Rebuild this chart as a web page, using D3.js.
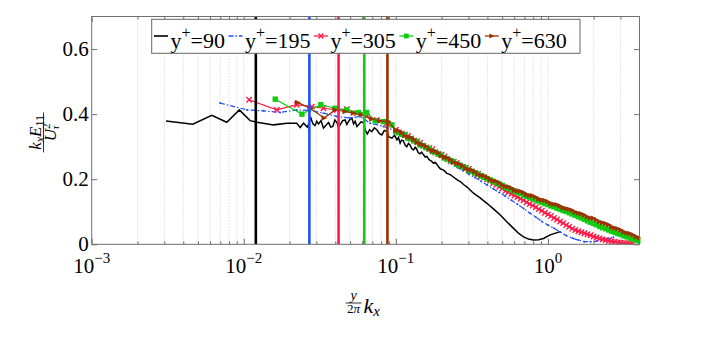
<!DOCTYPE html>
<html>
<head>
<meta charset="utf-8">
<script src="https://cdn.jsdelivr.net/npm/d3@7"></script>
<style>
  body { margin: 0; background: #fff; }
</style>
</head>
<body>
<div id="chart"></div>
<script>
// Chart data
var seriesNames = ["90", "195", "305", "450", "630"];
var cutoffK = [0.012, 0.027, 0.042, 0.062, 0.088];
var xDecades = [-3, -2, -1, 0];
var yTicks = [0, 0.2, 0.4, 0.6];

var k90 = [0.00308, 0.00462, 0.00616, 0.00773, 0.00935, 0.0110, 0.0122, 0.0157, 0.0192, 0.0223, 0.0235,
    0.0247, 0.0262, 0.0276, 0.0285, 0.0294, 0.0302, 0.0310, 0.0322, 0.0334, 0.0347, 0.0361, 0.0373, 0.0385,
    0.0397, 0.0409, 0.0420, 0.0430, 0.0447, 0.0464, 0.0476, 0.0488, 0.0500, 0.0514, 0.0527, 0.0540, 0.0555,
    0.0568, 0.0590, 0.0612, 0.0630, 0.0650, 0.0672, 0.0695, 0.0722, 0.0750, 0.0780, 0.0809, 0.0840, 0.0873,
    0.0900, 0.0942, 0.0980, 0.1016, 0.1040, 0.1067, 0.109, 0.112, 0.115, 0.118, 0.121, 0.124, 0.127, 0.1306,
    0.134, 0.137, 0.140, 0.144, 0.148, 0.152, 0.156, 0.160, 0.164, 0.168, 0.172, 0.1767, 0.181, 0.186, 0.191,
    0.196, 0.206, 0.2166, 0.228, 0.240, 0.252, 0.265, 0.280, 0.294, 0.324, 0.360, 0.397, 0.440, 0.486, 0.540,
    0.594, 0.640, 0.691, 0.745, 0.803, 0.870, 0.935, 1.035, 1.205];
var e90 = [0.379, 0.369, 0.396, 0.375, 0.413, 0.380, 0.375, 0.367, 0.372, 0.372, 0.359,
    0.372, 0.360, 0.388, 0.370, 0.365, 0.378, 0.370, 0.380, 0.357, 0.366, 0.374, 0.360, 0.362,
    0.382, 0.375, 0.360, 0.367, 0.380, 0.382, 0.368, 0.377, 0.385, 0.388, 0.370, 0.378, 0.362,
    0.367, 0.376, 0.374, 0.350, 0.339, 0.352, 0.346, 0.358, 0.352, 0.340, 0.336, 0.350, 0.346,
    0.330, 0.326, 0.335, 0.321, 0.328, 0.311, 0.320, 0.318, 0.305, 0.300, 0.310, 0.305, 0.294, 0.290,
    0.298, 0.293, 0.282, 0.278, 0.283, 0.275, 0.268, 0.270, 0.262, 0.258, 0.255, 0.249, 0.252, 0.246, 0.238,
    0.232, 0.228, 0.218, 0.214, 0.206, 0.199, 0.193, 0.183, 0.176, 0.157, 0.142, 0.126, 0.108, 0.090, 0.068,
    0.049, 0.034, 0.023, 0.016, 0.013, 0.014, 0.018, 0.029, 0.039];

var k195 = [0.00698, 0.0105, 0.01346, 0.01734, 0.0223, 0.0273, 0.0334, 0.0409, 0.0500, 0.0583, 0.0678, 0.0828, 0.1016,
    0.1096, 0.1202, 0.1318, 0.1445, 0.1585, 0.1738, 0.1905, 0.2089, 0.2291, 0.2512, 0.2754, 0.3020, 0.3311, 0.3631,
    0.3981, 0.4365, 0.4786, 0.5248, 0.5754, 0.6310, 0.6918, 0.7586, 0.8318, 0.9120, 1.000, 1.096, 1.202, 1.318,
    1.445, 1.585, 1.738, 1.905, 2.089, 2.291, 2.512, 2.69];
var e195 = [0.434, 0.413, 0.410, 0.405, 0.413, 0.411, 0.403, 0.393, 0.388, 0.393, 0.372, 0.362, 0.347,
    0.337, 0.328, 0.318, 0.307, 0.297, 0.286, 0.274, 0.262, 0.250, 0.238, 0.227, 0.215, 0.205, 0.194,
    0.182, 0.171, 0.159, 0.148, 0.135, 0.123, 0.110, 0.096, 0.084, 0.070, 0.059, 0.049, 0.038, 0.027,
    0.019, 0.013, 0.008, 0.008, 0.010, 0.014, 0.018, 0.022];

// low-wavenumber (sparse) part of the three outer series
var k305Low = [0.01084, 0.01648, 0.0223, 0.0280, 0.0334, 0.0409, 0.0476, 0.0553, 0.0644, 0.0750, 0.0873];
var e305Low = [0.444, 0.413, 0.429, 0.423, 0.418, 0.413, 0.415, 0.403, 0.393, 0.382, 0.372];
var k450Low = [0.0161, 0.0241, 0.0321, 0.0399, 0.0476, 0.0568, 0.0644, 0.0731, 0.0828, 0.0942];
var e450Low = [0.446, 0.400, 0.429, 0.418, 0.413, 0.405, 0.405, 0.379, 0.377, 0.367];
var k630Low = [0.0226, 0.0273, 0.0338, 0.0399, 0.0464, 0.0526, 0.0598, 0.0695, 0.0788, 0.0894];
var e630Low = [0.436, 0.418, 0.388, 0.413, 0.408, 0.403, 0.398, 0.385, 0.379, 0.377];

// shared wavenumbers of the dense (high-wavenumber) part
var kDense = [0.1000, 0.1047, 0.1096, 0.1148, 0.1202, 0.1259, 0.1318, 0.1380, 0.1445, 0.1514, 0.1585, 0.1660,
    0.1738, 0.1820, 0.1905, 0.1995, 0.2089, 0.2188, 0.2291, 0.2399, 0.2512, 0.2630, 0.2754, 0.2884, 0.3020,
    0.3162, 0.3311, 0.3467, 0.3631, 0.3802, 0.3981, 0.4169, 0.4365, 0.4571, 0.4786, 0.5012, 0.5248, 0.5495,
    0.5754, 0.6026, 0.6310, 0.6607, 0.6918, 0.7244, 0.7586, 0.7943, 0.8318, 0.8710, 0.9120, 0.9550, 1.000,
    1.047, 1.096, 1.148, 1.202, 1.259, 1.318, 1.380, 1.445, 1.514, 1.585, 1.660, 1.738, 1.820, 1.905, 1.995,
    2.089, 2.188, 2.291, 2.399, 2.512, 2.630, 2.754, 2.884, 3.020, 3.162, 3.311, 3.467, 3.631, 3.802, 3.981];

var e305Dense = [0.352, 0.344, 0.340, 0.337, 0.333, 0.325, 0.319, 0.317, 0.312, 0.303, 0.298, 0.296,
    0.292, 0.282, 0.278, 0.275, 0.270, 0.261, 0.256, 0.254, 0.250, 0.241, 0.238, 0.235, 0.232,
    0.224, 0.220, 0.217, 0.210, 0.206, 0.200, 0.195, 0.188, 0.183, 0.177, 0.171, 0.164, 0.160,
    0.155, 0.150, 0.145, 0.140, 0.135, 0.129, 0.124, 0.119, 0.114, 0.108, 0.103, 0.097, 0.092,
    0.087, 0.081, 0.076, 0.070, 0.065, 0.059, 0.054, 0.048, 0.044, 0.040, 0.037, 0.034, 0.031, 0.028, 0.024,
    0.021, 0.018, 0.015, 0.013, 0.011, 0.009, 0.008, 0.006, 0.005, 0.004, 0.003, 0.002, 0.002];

var e450Dense = [0.346, 0.343, 0.338, 0.336, 0.326, 0.324, 0.318, 0.315, 0.305, 0.303, 0.297, 0.294,
    0.285, 0.283, 0.277, 0.274, 0.265, 0.262, 0.257, 0.254, 0.246, 0.243, 0.238, 0.235, 0.227,
    0.224, 0.219, 0.216, 0.210, 0.206, 0.202, 0.198, 0.193, 0.189, 0.185, 0.181, 0.175, 0.172,
    0.167, 0.164, 0.159, 0.156, 0.151, 0.148, 0.144, 0.140, 0.136, 0.133, 0.129, 0.125, 0.122,
    0.118, 0.115, 0.111, 0.108, 0.104, 0.101, 0.097, 0.093, 0.089, 0.085, 0.081, 0.077, 0.072, 0.068, 0.064,
    0.060, 0.055, 0.051, 0.048, 0.044, 0.040, 0.037, 0.033, 0.030, 0.026, 0.023, 0.019, 0.016, 0.013, 0.010];

var e630Dense = [0.350, 0.349, 0.343, 0.334, 0.330, 0.328, 0.322, 0.313, 0.308, 0.306, 0.301, 0.292,
    0.287, 0.286, 0.281, 0.272, 0.267, 0.266, 0.260, 0.252, 0.249, 0.247, 0.241, 0.233, 0.229,
    0.228, 0.223, 0.215, 0.212, 0.211, 0.206, 0.199, 0.195, 0.194, 0.189, 0.182, 0.178, 0.177,
    0.173, 0.166, 0.164, 0.163, 0.159, 0.153, 0.150, 0.149, 0.145, 0.139, 0.136, 0.135, 0.131,
    0.125, 0.123, 0.122, 0.118, 0.112, 0.110, 0.108, 0.105, 0.099, 0.096, 0.094, 0.090, 0.084, 0.081, 0.080,
    0.075, 0.069, 0.066, 0.064, 0.060, 0.053, 0.050, 0.048, 0.044, 0.038, 0.035, 0.033, 0.029, 0.023, 0.020];

// Define svg size and margins
var svgWidth = 706;
var svgHeight = 351;
var margin = { top: 16.5, left: 91.7, right: 66.5, bottom: 106.7 };
var width = svgWidth - margin.left - margin.right;
var height = svgHeight - margin.top - margin.bottom;

var serif = "'Liberation Serif', 'Times New Roman', serif";
var axisGray = "#707070";

var svg = d3.select("#chart")
    .append("svg")
    .attr("width", svgWidth)
    .attr("height", svgHeight)
    .style("font-family", serif);

var chartGroup = svg.append("g")
    .attr("transform", `translate(${margin.left}, ${margin.top})`);

// Scales
var xScale = d3.scaleLog().domain([1e-3, 4]).range([0, width]);
var yScale = d3.scaleLinear().domain([0, 0.7]).range([height, 0]);

// Major and minor positions on the log axis
var majorX = xDecades.map(d => Math.pow(10, d));
var minorX = [];
xDecades.forEach(function(d) {
    for (var m = 2; m <= 9; m++) {
        var v = m * Math.pow(10, d);
        if (v < 4) minorX.push(v);
    }
});

// Dotted vertical grid
chartGroup.append("g")
    .selectAll("line")
    .data(majorX.concat(minorX).filter(v => v > 1e-3))
    .enter()
    .append("line")
    .attr("x1", d => xScale(d))
    .attr("x2", d => xScale(d))
    .attr("y1", 0)
    .attr("y2", height)
    .attr("stroke", "#bdbdbd")
    .attr("stroke-width", 0.8)
    .attr("stroke-dasharray", "1,2");

// Clip
svg.append("defs").append("clipPath")
    .attr("id", "plotClip")
    .append("rect")
    .attr("x", -1)
    .attr("width", width + 2)
    .attr("height", height);

var plot = chartGroup.append("g").attr("clip-path", "url(#plotClip)");

var series = [
    { name: seriesNames[0], k: k90, e: e90, color: "#000000", width: 1.5, dash: null, marker: null },
    { name: seriesNames[1], k: k195, e: e195, color: "#1f4fff", width: 1.2, dash: "5,2,1.5,2", marker: null },
    { name: seriesNames[2], k: k305Low.concat(kDense.slice(0, e305Dense.length)), e: e305Low.concat(e305Dense),
        color: "#ff1a4a", width: 1.2, dash: null, marker: "x" },
    { name: seriesNames[3], k: k450Low.concat(kDense), e: e450Low.concat(e450Dense),
        color: "#11cc11", width: 1.2, dash: null, marker: "square" },
    { name: seriesNames[4], k: k630Low.concat(kDense), e: e630Low.concat(e630Dense),
        color: "#993300", width: 1.2, dash: null, marker: "tri" }
];

var line = d3.line()
    .x(d => xScale(d[0]))
    .y(d => yScale(d[1]));

function drawMarker(g, type, color, x, y, s) {
    if (type === "x") {
        g.append("path")
            .attr("d", `M${x - s},${y - s}L${x + s},${y + s}M${x - s},${y + s}L${x + s},${y - s}`)
            .attr("stroke", color)
            .attr("stroke-width", 1.4)
            .attr("fill", "none");
    } else if (type === "square") {
        g.append("rect")
            .attr("x", x - s)
            .attr("y", y - s)
            .attr("width", 2 * s)
            .attr("height", 2 * s)
            .attr("fill", color);
    } else if (type === "tri") {
        g.append("path")
            .attr("d", `M${x + s + 0.5},${y}L${x - s},${y - s}L${x - s},${y + s}Z`)
            .attr("fill", color);
    }
}

var lineColors = series.map(s => s.color);

series.forEach(function(s) {
    var pts = s.k.map((k, i) => [k, s.e[i]]);
    plot.append("path")
        .datum(pts)
        .attr("d", line)
        .attr("fill", "none")
        .attr("stroke", s.color)
        .attr("stroke-width", s.width)
        .attr("stroke-dasharray", s.dash);
    if (s.dash) {
        // dotted look where the samples are dense
        var mg = plot.append("g");
        pts.forEach(function(p) {
            mg.append("circle")
                .attr("cx", xScale(p[0]))
                .attr("cy", yScale(p[1]))
                .attr("r", 1)
                .attr("fill", s.color);
        });
    }
    if (s.marker) {
        var mg2 = plot.append("g");
        pts.forEach(function(p) {
            drawMarker(mg2, s.marker, s.color, xScale(p[0]), yScale(p[1]), 2.7);
        });
    }
});

// Vertical cut-off lines
chartGroup.append("g")
    .selectAll("line")
    .data(cutoffK)
    .enter()
    .append("line")
    .attr("x1", d => xScale(d))
    .attr("x2", d => xScale(d))
    .attr("y1", 0)
    .attr("y2", height)
    .attr("stroke", (d, i) => lineColors[i])
    .attr("stroke-width", 2.6);

// Axes box
chartGroup.append("rect")
    .attr("width", width)
    .attr("height", height)
    .attr("fill", "none")
    .attr("stroke", axisGray)
    .attr("stroke-width", 1);

// Tick marks (inward)
function tickGroup(axis) {
    return chartGroup.append("g").call(axis)
        .call(g => g.select(".domain").remove())
        .call(g => g.selectAll(".tick line").attr("stroke", axisGray))
        .call(g => g.selectAll(".tick text").remove());
}
tickGroup(d3.axisBottom(xScale).tickValues(majorX).tickSize(-5.5))
    .attr("transform", `translate(0, ${height})`);
tickGroup(d3.axisBottom(xScale).tickValues(minorX).tickSize(-3))
    .attr("transform", `translate(0, ${height})`);
tickGroup(d3.axisTop(xScale).tickValues(majorX).tickSize(-5.5));
tickGroup(d3.axisTop(xScale).tickValues(minorX).tickSize(-3));
tickGroup(d3.axisLeft(yScale).tickValues(yTicks).tickSize(-5.5));
tickGroup(d3.axisRight(yScale).tickValues(yTicks).tickSize(-5.5))
    .attr("transform", `translate(${width}, 0)`);

// Tick labels
chartGroup.append("g")
    .selectAll("text")
    .data(yTicks)
    .enter()
    .append("text")
    .attr("x", -3)
    .attr("y", d => yScale(d) + 7)
    .attr("text-anchor", "end")
    .style("font-family", serif)
    .style("font-size", "21px")
    .text(d => d === 0 ? "0" : d.toFixed(1));

var xLab = chartGroup.append("g")
    .selectAll("text")
    .data(xDecades)
    .enter()
    .append("text")
    .attr("x", d => xScale(Math.pow(10, d)))
    .attr("y", height + 29)
    .attr("text-anchor", "middle")
    .style("font-family", serif)
    .style("font-size", "21px");
xLab.append("tspan").text("10");
xLab.append("tspan")
    .attr("dy", -10)
    .style("font-size", "15px")
    .text(d => d === 0 ? "0" : "\u2212" + Math.abs(d));

// x label: y/(2 pi) k_x
var xl = svg.append("g")
    .attr("transform", `translate(${margin.left + width / 2 - 12}, 303)`);
xl.append("text").attr("x", 0).attr("y", -3).attr("text-anchor", "middle")
    .style("font-family", serif)
    .style("font-size", "14px").style("font-style", "italic").text("y");
xl.append("line").attr("x1", -8).attr("x2", 8).attr("y1", 0).attr("y2", 0)
    .attr("stroke", "#000").attr("stroke-width", 0.8);
var den2 = xl.append("text").attr("x", 0).attr("y", 10).attr("text-anchor", "middle")
    .style("font-family", serif)
    .style("font-size", "13px");
den2.append("tspan").text("2");
den2.append("tspan").style("font-style", "italic").text("\u03c0");
var kx = xl.append("text").attr("x", 10).attr("y", 10)
    .style("font-family", serif).style("font-size", "22px");
kx.append("tspan").style("font-style", "italic").text("k");
kx.append("tspan").attr("dy", 3).style("font-size", "15px").style("font-style", "italic").text("x");

// y label: k_x E_11 / U_tau^2 (rotated)
var yl = svg.append("g")
    .attr("transform", `translate(43.5, ${margin.top + height / 2 + 2}) rotate(-90)`);
var num = yl.append("text").attr("x", 0).attr("y", -3).attr("text-anchor", "middle")
    .style("font-family", serif)
    .style("font-size", "17px");
num.append("tspan").style("font-style", "italic").text("k");
num.append("tspan").attr("dy", 3).style("font-size", "12px").style("font-style", "italic").text("x");
num.append("tspan").attr("dy", -3).style("font-style", "italic").text("E");
num.append("tspan").attr("dy", 3).style("font-size", "12px").text("11");
yl.append("line").attr("x1", -20).attr("x2", 20).attr("y1", 0).attr("y2", 0)
    .attr("stroke", "#000").attr("stroke-width", 0.8);
var den = yl.append("text").attr("x", 0).attr("y", 12).attr("text-anchor", "middle")
    .style("font-family", serif)
    .style("font-size", "17px");
den.append("tspan").style("font-style", "italic").text("U");
den.append("tspan").attr("dy", -6).style("font-size", "11px").text("2");
den.append("tspan").attr("dx", -6).attr("dy", 9).style("font-size", "11px").style("font-style", "italic").text("\u03c4");

// Legend
var legend = svg.append("g");
legend.append("rect")
    .attr("x", 151.7)
    .attr("y", 19.3)
    .attr("width", 428.3)
    .attr("height", 34)
    .attr("fill", "#fff")
    .attr("stroke", "#666")
    .attr("stroke-width", 1);

var lx = 154;
series.forEach(function(s) {
    var ly = 36;
    legend.append("line")
        .attr("x1", lx).attr("x2", lx + 14)
        .attr("y1", ly).attr("y2", ly)
        .attr("stroke", s.color)
        .attr("stroke-width", s.name === "90" ? 1.6 : 1.3)
        .attr("stroke-dasharray", s.dash);
    if (s.marker) drawMarker(legend, s.marker, s.color, lx + 7, ly, 2.4);
    var t = legend.append("text")
        .attr("x", lx + 16.5)
        .attr("y", 48)
        .style("font-family", serif)
        .style("font-size", "22px");
    t.append("tspan").text("y");
    t.append("tspan").attr("dy", -10).style("font-size", "16px").text("+");
    t.append("tspan").attr("dy", 10).text("=" + s.name);
    lx = lx + 16.5 + t.node().getComputedTextLength() + 3.5;
});
</script>
</body>
</html>
